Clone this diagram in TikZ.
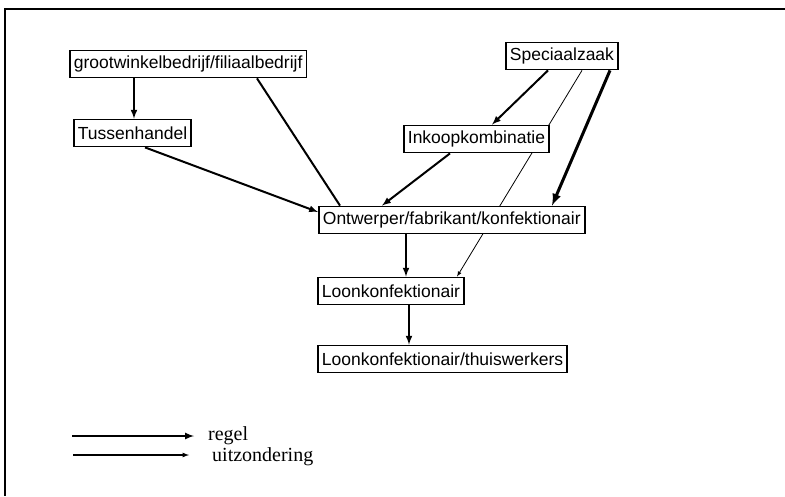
\documentclass[tikz,border=0pt]{standalone}
\usepackage{fontspec}
\setmainfont{Liberation Serif}
\setsansfont{Liberation Sans}
\usepackage{tikz}
\usetikzlibrary{positioning,arrows,backgrounds}

\begin{document}
\begin{tikzpicture}[
		x=1pt,y=-1pt,
		box/.style={
			draw,
			fill=white,
			line width=1.8pt,
			anchor=west,
			minimum height=27pt,
			inner xsep=4pt,
			font=\sffamily\fontsize{17.5}{20}\selectfont
		},
		regel/.style={
			-latex,
			line width=2pt
		},
		zwaar/.style={
			-latex,
			line width=3pt
		},
		uitz/.style={
			-latex,
			line width=0.8pt
		},
		legtxt/.style={
			anchor=west,
			inner sep=0pt,
			font=\fontsize{20}{22}\selectfont
		}
		]
		\useasboundingbox (0,0) rectangle (785,496);
		
		% kader
		\draw[line width=2.5pt] (4,9) -- (785,9);
		\draw[line width=2.5pt] (5,8) -- (5,496);
		
		\node[box] at (69, 64)  
		(gw) {grootwinkelbedrijf/filiaalbedrijf};
		\node[box] at (73, 133)  
		(th) {Tussenhandel};
		\node[box] at (505, 56)  
		(sz) {Speciaalzaak};
		\node[box] at (403, 139)  
		(ik) {Inkoopkombinatie};
		\node[box] at (318, 220)  
		(on) {Ontwerper/fabrikant/konfektionair};
		\node[box] at (317, 291)  
		(lk) {Loonkonfektionair};
		\node[box] at (317, 359)  
		(lt) {Loonkonfektionair/thuiswerkers};
		
		\begin{scope}[on background layer]
		\draw[regel] ([xshift=65]gw.south west) -- ([xshift=61]th.north west);
		\draw[line width=2pt] ([xshift=188]gw.south west) -- ([xshift=22]on.north west);
		\draw[regel] ([xshift=72]th.south west) -- ([yshift=8]on.west);
		\draw[regel] ([xshift=43]sz.south west) -- ([xshift=89]ik.north west);
		\draw[regel] ([xshift=47]ik.south west) -- ([xshift=64]on.north west);
		\draw[uitz] ([xshift=77]sz.south west) -- ([xshift=140]lk.north west);
		\draw[zwaar] ([xshift=105]sz.south west) -- ([xshift=234]on.north west);
		\draw[regel] ([xshift=88]on.south west) -- ([xshift=89]lk.north west);
		\draw[regel] ([xshift=92]lk.south west) -- ([xshift=92]lt.north west);
		\end{scope}
		
		% legenda
		\coordinate (r1) at (72, 436);
		\coordinate (r2) at (194, 436);
		\coordinate (u1) at (73, 455);
		\coordinate (u2) at (189, 455);
		\draw[regel] (r1) -- (r2);
		\draw[uitz, line width=1.2pt] (u1) -- (u2);
		\node[legtxt, right=14pt of r2] (rt) {regel};
		\node[legtxt, right=23pt of u2, yshift=-2pt] (ut) {uitzondering};
		
		\end{tikzpicture}
\end{document}
